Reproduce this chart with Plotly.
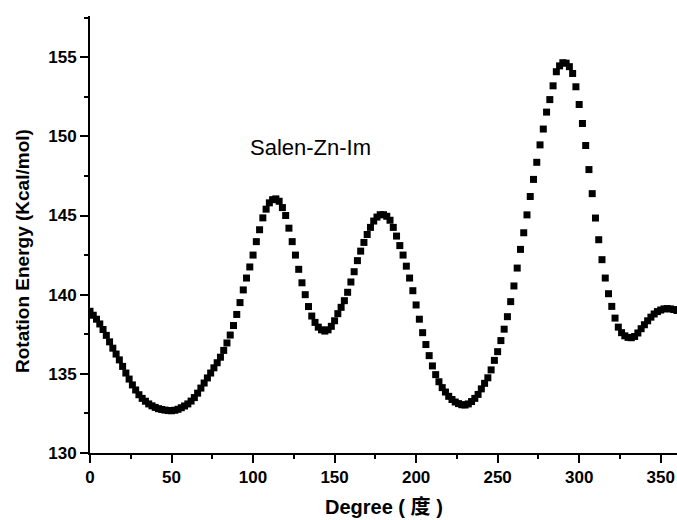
import plotly.graph_objects as go

# Dihedral rotation scan, one point every 2 degrees
degree = list(range(0, 362, 2))

energy = [
    138.95, 138.70, 138.45, 138.15, 137.80, 137.43, 137.02, 136.62, 136.25, 135.88,  # 0-18
    135.47, 135.05, 134.67, 134.30, 133.98, 133.68, 133.45, 133.27, 133.10, 132.98,  # 20-38
    132.88, 132.80, 132.75, 132.71, 132.68, 132.67, 132.70, 132.76, 132.86, 132.97,  # 40-58
    133.10, 133.28, 133.50, 133.78, 134.10, 134.42, 134.74, 135.05, 135.38, 135.70,  # 60-78
    136.05, 136.48, 136.95, 137.45, 138.05, 138.75, 139.50, 140.30, 141.05, 141.75,  # 80-98
    142.50, 143.35, 144.10, 144.85, 145.40, 145.80, 146.00, 146.05, 145.90, 145.50,  # 100-118
    145.00, 144.20, 143.35, 142.50, 141.60, 140.75, 140.00, 139.25, 138.65, 138.25,  # 120-138
    137.95, 137.78, 137.70, 137.78, 138.00, 138.35, 138.80, 139.20, 139.62, 140.15,  # 140-158
    140.80, 141.45, 142.15, 142.75, 143.30, 143.80, 144.25, 144.65, 144.90, 145.05,  # 160-178
    145.05, 144.95, 144.70, 144.25, 143.70, 143.10, 142.50, 141.80, 141.05, 140.25,  # 180-198
    139.35, 138.45, 137.60, 136.85, 136.15, 135.50, 134.95, 134.50, 134.13, 133.85,  # 200-218
    133.58, 133.38, 133.22, 133.12, 133.05, 133.03, 133.10, 133.25, 133.45, 133.70,  # 220-238
    134.05, 134.40, 134.75, 135.25, 135.85, 136.40, 137.10, 137.82, 138.61, 139.56,  # 240-258
    140.55, 141.68, 142.86, 143.91, 145.04, 146.20, 147.28, 148.36, 149.46, 150.46,  # 260-278
    151.53, 152.32, 153.19, 154.08, 154.45, 154.65, 154.62, 154.40, 153.97, 153.13,  # 280-298
    152.01, 150.81, 149.42, 147.90, 146.38, 144.84, 143.47, 142.21, 141.05, 140.06,  # 300-318
    139.26, 138.52, 137.95, 137.60, 137.40, 137.30, 137.28, 137.36, 137.58, 137.85,  # 320-338
    138.10, 138.35, 138.58, 138.78, 138.93, 139.03, 139.10, 139.12, 139.10, 139.06,  # 340-358
    139.00,                                                                          # 360
]

x_ticks = [0, 50, 100, 150, 200, 250, 300, 350]
y_ticks = [130, 135, 140, 145, 150, 155]

FONT = "Liberation Sans, Arial, Noto Sans CJK SC, sans-serif"

fig = go.Figure(
    go.Scatter(
        x=degree,
        y=energy,
        mode="markers",
        marker=dict(symbol="square", size=7, color="black", line=dict(width=0)),
        showlegend=False,
    )
)

axis_common = dict(
    showline=True,
    linecolor="black",
    linewidth=2,
    mirror=False,
    showgrid=False,
    zeroline=False,
    ticks="outside",
    tickcolor="black",
    tickwidth=2,
    ticklen=8,
    tickfont=dict(family=FONT, size=17, color="black", weight="bold"),
)

fig.update_xaxes(
    range=[0, 360],
    tickvals=x_ticks,
    minor=dict(ticks="outside", ticklen=4, tickwidth=1.5, tickcolor="black",
               dtick=25, tick0=0, showgrid=False),
    **axis_common,
)
fig.update_yaxes(
    range=[130, 157.6],
    tickvals=y_ticks,
    minor=dict(ticks="outside", ticklen=4, tickwidth=1.5, tickcolor="black",
               dtick=2.5, tick0=130, showgrid=False),
    **axis_common,
)

fig.add_annotation(
    text="Rotation Energy (Kcal/mol)",
    xref="paper", yref="paper", x=-0.116, y=0.462,
    xanchor="center", yanchor="middle",
    textangle=-90, showarrow=False,
    font=dict(family=FONT, size=19, color="black", weight="bold"),
)
fig.add_annotation(
    text="Degree ( 度 )",
    xref="paper", yref="paper", x=0.5, y=-0.124,
    xanchor="center", yanchor="middle",
    showarrow=False,
    font=dict(family=FONT, size=20, color="black", weight="bold"),
)
fig.add_annotation(
    text="Salen-Zn-Im",
    xref="x", yref="y", x=135, y=149.3,
    xanchor="center", yanchor="middle",
    showarrow=False,
    font=dict(family=FONT, size=22, color="black"),
)

fig.update_layout(
    width=677,
    height=520,
    autosize=False,
    margin=dict(l=90, r=0, t=16, b=67),
    plot_bgcolor="white",
    paper_bgcolor="white",
)

fig.write_html("out.html")
